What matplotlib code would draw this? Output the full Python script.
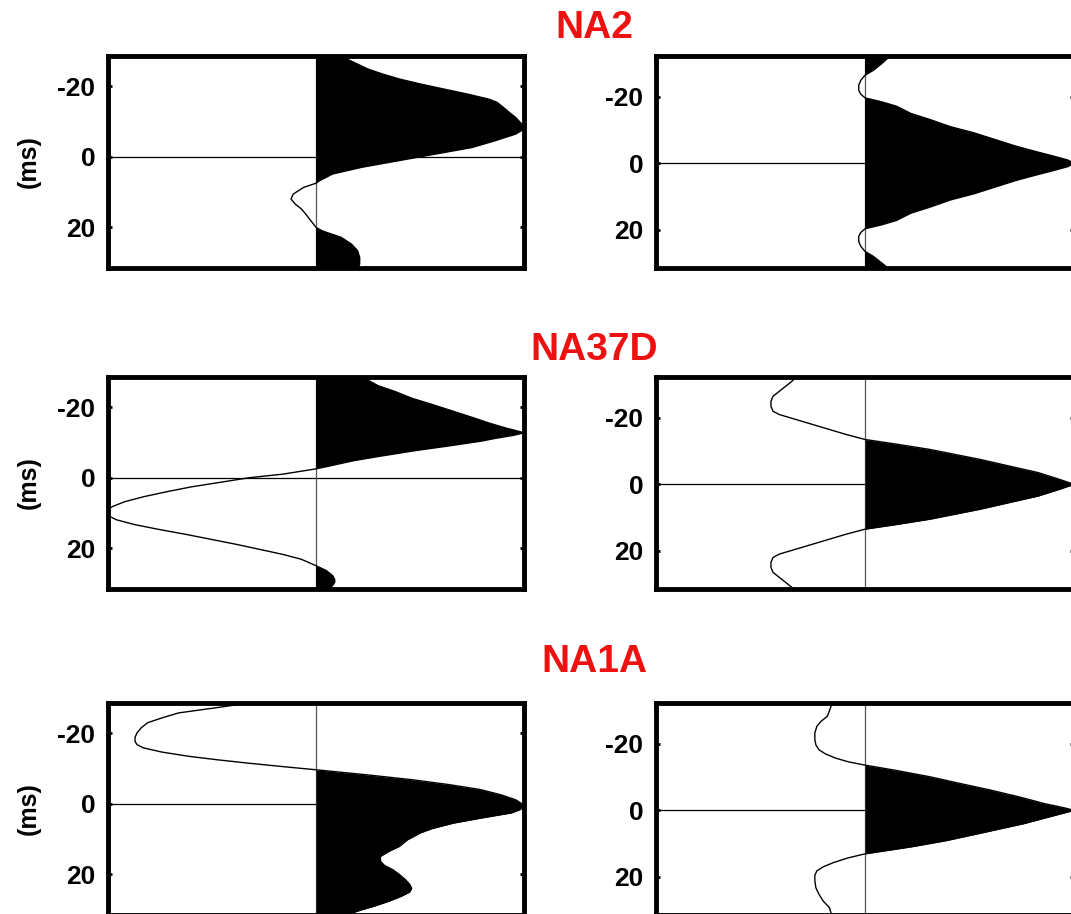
import numpy as np
import matplotlib.pyplot as plt

plt.rcParams['font.family'] = ['Liberation Sans', 'DejaVu Sans']
plt.rcParams['font.weight'] = 'bold'
plt.rcParams['axes.unicode_minus'] = False

titles = ['NA2', 'NA37D', 'NA1A']

# NA2 - left trace (time in ms, normalised amplitude)
na2_l_t = [-28.5, -27.6, -26.2, -24.8, -23.4, -22.0, -20.6, -19.2, -17.7, -16.3, -15.4, -14.0, -12.5,
           -11.1, -9.2, -7.8, -6.4, -4.5, -2.6, -0.8, 1.1, 3.0, 4.9, 6.8, 7.5, 8.7, 10.6, 12.0, 13.4,
           14.8, 16.2, 18.1, 20.0, 21.0, 22.8, 24.7, 26.6, 28.5, 30.4, 31.8]
na2_l_a = [0.14, 0.15, 0.2, 0.25, 0.32, 0.4, 0.5, 0.61, 0.73, 0.83, 0.87, 0.9, 0.93,
           0.96, 0.99, 1.0, 0.96, 0.86, 0.75, 0.58, 0.4, 0.22, 0.08, 0.017, 0.0, -0.06, -0.11, -0.12, -0.10,
           -0.07, -0.05, -0.025, 0.0, 0.03, 0.12, 0.17, 0.2, 0.21, 0.21, 0.2]
# NA2 - right trace
na2_r_t = [-32.3, -31.7, -30, -28, -26.5, -25, -23.5, -22, -20.8, -19.7, -18.5, -17.2, -15, -13.2,
           -11, -9.2, -7, -5.2, -3.5, -2.2, -1, 0,
           1, 2.2, 3.5, 5.2, 7, 9.2, 11, 13.2, 15, 17.2, 18.5, 19.7, 20.8, 22, 23.5, 25, 26.5, 28,
           30, 31.5]
na2_r_a = [0.12, 0.11, 0.08, 0.04, 0.0, -0.02, -0.03, -0.03, -0.02, 0.0, 0.08, 0.15, 0.22, 0.31,
           0.41, 0.52, 0.63, 0.72, 0.82, 0.9, 0.97, 1.0,
           0.97, 0.9, 0.82, 0.72, 0.63, 0.52, 0.41, 0.31, 0.22, 0.15, 0.08, 0.0, -0.02, -0.03, -0.03,
           -0.02, 0.0, 0.04, 0.08, 0.11]

# NA37D - left trace
na37_l_t = [-28.5, -27.6, -26, -24.4, -22.5, -20.7, -18.8, -16.9, -15.5, -14.1, -13.2, -12.7, -12,
            -11, -10.4, -9, -7.6, -6, -4.8, -3.5, -2.5, -1, 0, 1.3, 2.6, 4, 5.4, 6.8, 8.2, 9.1, 10,
            11, 11.9, 13.3, 14.7, 16.1, 17.5, 18.9, 20.3, 21.7, 23.1, 24.9, 26.3, 27.7, 28.8, 29.6,
            30.5, 31.5]
na37_l_a = [0.24, 0.25, 0.3, 0.38, 0.46, 0.56, 0.66, 0.76, 0.83, 0.91, 0.97, 1.0, 0.95,
            0.85, 0.8, 0.64, 0.47, 0.3, 0.18, 0.08, 0.0, -0.16, -0.32, -0.46, -0.6, -0.72, -0.83,
            -0.92, -0.98, -1.0, -1.0, -0.99, -0.96, -0.87, -0.75, -0.62, -0.5, -0.38, -0.27, -0.16,
            -0.07, 0.0, 0.05, 0.08, 0.09, 0.09, 0.08, 0.06]
# NA37D - right trace
na37_r_t = [-32.3, -31, -29.5, -28, -26.5, -25, -23.5, -22, -21, -19.5, -18, -16.5, -15, -13.5,
            -12, -10.5, -9, -7.5, -5.5, -3.5, -1.5, 0,
            1.5, 3.5, 5.5, 7.5, 9, 10.5, 12, 13.5, 15, 16.5, 18, 19.5, 21, 22, 23.5, 25, 26.5, 28,
            29.5, 31.5]
na37_r_a = [-0.33, -0.35, -0.38, -0.41, -0.44, -0.45, -0.45, -0.44, -0.41, -0.33, -0.25, -0.17,
            -0.09, 0.0, 0.16, 0.31, 0.43, 0.55, 0.69, 0.83, 0.93, 1.0,
            0.93, 0.83, 0.69, 0.55, 0.43, 0.31, 0.16, 0.0, -0.09, -0.17, -0.25, -0.33, -0.41,
            -0.44, -0.45, -0.45, -0.44, -0.41, -0.38, -0.34]

# NA1A - left trace
na1a_l_t = [-28.5, -28, -27, -25.7, -24.3, -22.9, -21.5, -20.1, -18.8, -17.6, -16.7, -15.8, -14.6,
            -13.4, -12.4, -11.5, -10.5, -9.6, -8.2, -6.8, -5.4, -4, -2.5, -1.1, 0, 0.8, 1.7, 2.6, 4,
            5.5, 7, 8.3, 10.2, 12.1, 13.5, 14.9, 16.3, 17.5, 18.7, 20, 21.5, 22.8, 23.9, 25, 26.2,
            27.6, 29, 30, 31, 31.8]
na1a_l_a = [-0.36, -0.38, -0.5, -0.66, -0.74, -0.81, -0.84, -0.86, -0.87, -0.87, -0.86, -0.83, -0.74,
            -0.61, -0.47, -0.33, -0.16, 0.0, 0.24, 0.46, 0.64, 0.79, 0.89, 0.96, 0.99, 1.0, 0.98, 0.94,
            0.8, 0.66, 0.56, 0.5, 0.44, 0.4, 0.35, 0.31, 0.31, 0.33, 0.37, 0.4, 0.43, 0.45, 0.46, 0.45,
            0.41, 0.35, 0.28, 0.22, 0.17, 0.14]
# NA1A - right trace
na1a_r_t = [-32.3, -31.8, -30, -28.3, -26.8, -25.3, -23.3, -21.2, -19.7, -18.2, -17, -15.7, -14.6,
            -13.6, -12, -10.1, -8, -6.1, -4, -2, -0.8, 0, 1.5, 4, 6.5, 9.1, 11, 13.1, 14.3, 15.7, 17,
            18.2, 19.5, 21.2, 23.3, 25.3, 27.3, 29.3, 31.5]
na1a_r_a = [-0.16, -0.16, -0.17, -0.18, -0.21, -0.23, -0.24, -0.24, -0.235, -0.22, -0.19, -0.14,
            -0.08, 0.0, 0.15, 0.31, 0.46, 0.6, 0.74, 0.86, 0.95, 1.0, 0.91, 0.76, 0.58, 0.39, 0.22,
            0.0, -0.08, -0.15, -0.2, -0.23, -0.24, -0.24, -0.235, -0.22, -0.2, -0.17, -0.16]

traces = [
    [(na2_l_t, na2_l_a), (na2_r_t, na2_r_a)],
    [(na37_l_t, na37_l_a), (na37_r_t, na37_r_a)],
    [(na1a_l_t, na1a_l_a), (na1a_r_t, na1a_r_a)],
]

W, H = 1071, 914
fig = plt.figure(figsize=(W / 100, H / 100), dpi=100)

row_top = [56, 377, 703]      # pixel top of each row
row_h = 212
col_left = [108, 656]
col_w = [416, 418]
ylims = [(31.5, -28.5), (31.5, -32.3)]
title_y = [28, 350, 662]

for r in range(3):
    for c in range(2):
        ax = fig.add_axes([col_left[c] / W, 1 - (row_top[r] + row_h) / H, col_w[c] / W, row_h / H])
        t = np.array(traces[r][c][0])
        a = np.array(traces[r][c][1])
        ax.axhline(0, color='black', lw=0.9, zorder=1)
        ax.axvline(0, color='#555555', lw=0.9, zorder=1)
        ax.fill_betweenx(t, 0, a, where=a >= 0, interpolate=True, color='black', lw=0, zorder=2)
        ax.plot(a, t, color='black', lw=1.0, zorder=3)
        ax.set_xlim(-1, 1)
        ax.set_ylim(*ylims[c])
        ax.set_yticks([-20, 0, 20])
        ax.set_xticks([])
        ax.tick_params(axis='y', direction='in', length=3, width=2, right=True, labelsize=19, pad=9)
        for lab in ax.get_yticklabels():
            lab.set_fontweight('bold')
        for s in ax.spines.values():
            s.set_linewidth(3.5)
        if c == 0:
            ax.set_ylabel('(ms)', fontsize=18, fontweight='bold', labelpad=12)
    fig.text(594 / W, 1 - title_y[r] / H, titles[r], color='#ee1111', fontsize=28,
             fontweight='bold', ha='center', va='center')

fig.savefig('out.png', dpi=100)
